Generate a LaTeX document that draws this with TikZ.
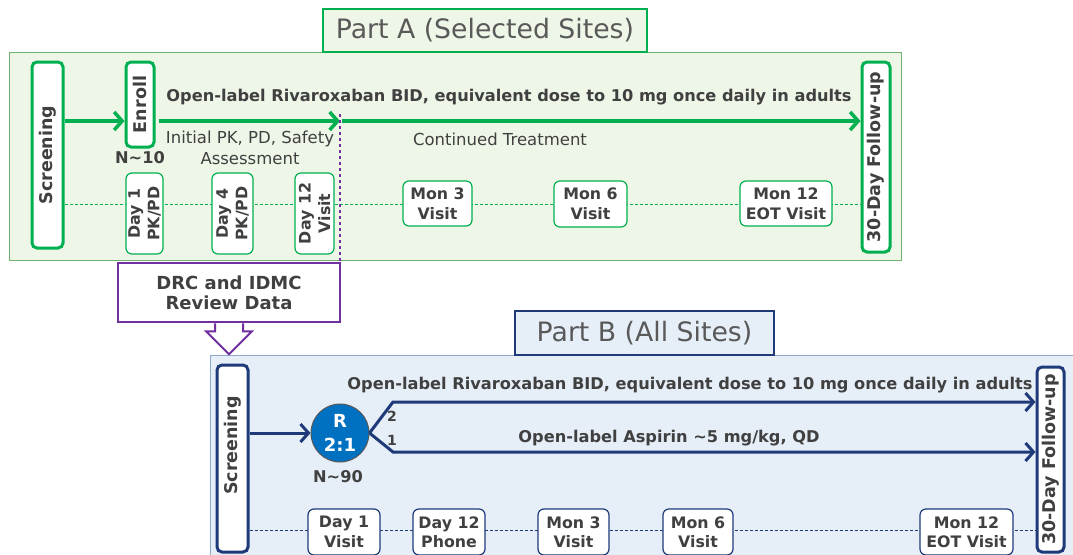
\documentclass[tikz,border=0pt]{standalone}
\usepackage{fontspec}
\setmainfont{DejaVu Sans}
\usetikzlibrary{arrows.meta,calc}
\definecolor{gA}{HTML}{00B050}
\definecolor{gAthin}{HTML}{6DB36D}
\definecolor{bgA}{HTML}{EEF6E7}
\definecolor{nav}{HTML}{1F3A78}
\definecolor{navthin}{HTML}{8EA9C8}
\definecolor{bgB}{HTML}{E6EEF7}
\definecolor{pur}{HTML}{7030A0}
\definecolor{txt}{HTML}{404040}
\definecolor{ttl}{HTML}{595959}
\definecolor{rb}{HTML}{0070C0}
\pgfdeclarelayer{bg}
\pgfdeclarelayer{mid}
\pgfsetlayers{bg,mid,main}
\newcommand{\fs}[1]{\fontsize{#1}{#1}\selectfont}
\newcommand{\fsb}[2]{\fontsize{#1}{#2}\selectfont}
\tikzset{
  phaseA/.style={draw=gA, line width=3pt, fill=white, rounded corners=5pt, inner sep=0pt, text=txt, font=\bfseries\fs{17.5}, rotate=90},
  phaseB/.style={draw=nav, line width=3pt, fill=white, rounded corners=5pt, inner sep=0pt, text=txt, font=\bfseries\fs{17.5}, rotate=90},
  visitA/.style={draw=gA, line width=1.2pt, fill=white, rounded corners=6pt, inner sep=0pt, align=center, text=txt, font=\bfseries\fsb{15.8}{19.5}},
  visitB/.style={draw=nav, line width=1.2pt, fill=white, rounded corners=6pt, inner sep=0pt, align=center, text=txt, font=\bfseries\fsb{15.8}{19.5}},
  titlebox/.style={line width=2.5pt, inner sep=0pt, text=ttl, font=\fs{26.7}},
  garrow/.style={draw=gA, line width=3.5pt, -{Straight Barb[length=8pt,width=18pt]}},
  narrow/.style={draw=nav, line width=3pt, -{Straight Barb[length=8pt,width=18pt]}},
  boldlab/.style={text=txt, font=\bfseries\fs{16.2}, inner sep=0pt},
  plainlab/.style={text=txt, font=\fsb{16.5}{21}, inner sep=0pt, align=center},
}
\begin{document}
\begin{tikzpicture}[x=1pt,y=-1pt]
\useasboundingbox (0,0) rectangle (1073,554);
\clip (0,0) rectangle (1073,554);

% ---------- Part A ----------
\begin{pgfonlayer}{bg}
  \draw[draw=gAthin, fill=bgA, line width=1pt] (9,52) rectangle (901,260);
  \draw[draw=navthin, fill=bgB, line width=1pt] (210,355) rectangle (1090,570);
\end{pgfonlayer}

\node[titlebox, draw=gA, fill=bgA, minimum width=324pt, minimum height=43pt] (titleA) at (485,30.5) {Part A (Selected Sites)};

\node[phaseA, minimum width=186pt, minimum height=31pt] (scrA) at (47.5,155) {Screening};
\node[phaseA, minimum width=85pt, minimum height=28pt] (enroll) at (140,104.5) {Enroll};
\node[phaseA, minimum width=190pt, minimum height=28pt] (fuA) at (876,157) {30-Day Follow-up};

\node[visitA, rotate=90, minimum width=81pt, minimum height=37pt] (d1A) at (144.5,213.5) {Day 1\\PK/PD};
\node[visitA, rotate=90, minimum width=81pt, minimum height=41pt] (d4A) at (232.5,213.5) {Day 4\\PK/PD};
\node[visitA, rotate=90, minimum width=81pt, minimum height=39pt] (d12A) at (314.5,213.5) {Day 12\\Visit};
\node[visitA, minimum width=69pt, minimum height=45pt] (m3A) at (437.5,203.5) {Mon 3\\Visit};
\node[visitA, minimum width=73pt, minimum height=46pt] (m6A) at (590.5,204) {Mon 6\\Visit};
\node[visitA, minimum width=92pt, minimum height=45pt] (m12A) at (786,203.5) {Mon 12\\EOT Visit};

\coordinate (yA) at (0,121);
\coordinate (dashA) at (0,204);
\coordinate (split) at (340,121);
\coordinate (dotEnd) at (340,263);

\begin{pgfonlayer}{mid}
  \draw[gA, line width=0.8pt, dash pattern=on 3pt off 2pt] (scrA.south |- dashA) -- (fuA.north |- dashA);
\end{pgfonlayer}

\draw[garrow] (scrA.south |- yA) -- (enroll.north |- yA);
\draw[garrow, shorten <=3pt] (enroll.south |- yA) -- (split);
\draw[garrow] ([xshift=2pt]split) -- (fuA.north |- yA);

\node[boldlab] (labA) at (509,97) {Open-label Rivaroxaban BID, equivalent dose to 10 mg once daily in adults};
\node[plainlab] (initA) at (250,148) {Initial PK, PD, Safety\\Assessment};
\node[plainlab] (contA) at (500,139) {Continued Treatment};
\node[boldlab] (nA) at (140,158) {N\textasciitilde 10};

% ---------- DRC ----------
\node[draw=pur, line width=2.5pt, fill=white, inner sep=0pt, minimum width=222pt, minimum height=59pt, align=center, text=txt, font=\bfseries\fs{18}] (drc) at (229,292.5) {DRC and IDMC\\[2pt]Review Data};
\draw[pur, line width=2pt, fill=white, line join=miter]
  ([xshift=-14pt]drc.south) -- ++(0,8) -- ++(-9,0) -- ++(23,23) -- ++(23,-23) -- ++(-9,0) -- ++(0,-8);
\draw[pur, line width=2.6pt, dash pattern=on 2.6pt off 3.4pt] (split |- 0,114) -- (dotEnd);

% ---------- Part B ----------
\node[titlebox, draw=nav, fill=bgB, minimum width=259pt, minimum height=44pt] (titleB) at (644.5,333) {Part B (All Sites)};

\node[phaseB, minimum width=187pt, minimum height=31pt] (scrB) at (232.5,458.5) {\hspace*{26pt}Screening};
\node[phaseB, minimum width=185pt, minimum height=27pt] (fuB) at (1050.5,459.5) {30-Day Follow-up};

\node[circle, draw=ttl, line width=1pt, fill=rb, minimum size=58pt, inner sep=0pt, text=white, align=center, font=\bfseries\fs{18}] (R) at (340,433) {R\\[6pt]2:1};
\node[boldlab] (nB) at (338,477) {N\textasciitilde 90};

\coordinate (b2) at (393,402);
\coordinate (b1) at (393,452);
\coordinate (dashB) at (0,530);

\begin{pgfonlayer}{mid}
  \draw[nav, line width=0.8pt, dash pattern=on 3pt off 2pt] (scrB.south |- dashB) -- (fuB.north |- dashB);
\end{pgfonlayer}

\draw[narrow] (scrB.south |- R) -- (R.west);
\draw[narrow, line join=miter] (R.east) -- (b2) -- (b2 -| fuB.north);
\draw[narrow, line join=miter] (R.east) -- (b1) -- (b1 -| fuB.north);

\node[boldlab, font=\bfseries\fs{14}] (n2) at (392,416) {2};
\node[boldlab, font=\bfseries\fs{14}] (n1) at (392,440) {1};
\node[boldlab] (labB1) at (690,385) {Open-label Rivaroxaban BID, equivalent dose to 10 mg once daily in adults};
\node[boldlab] (labB2) at (669,438) {Open-label Aspirin \textasciitilde 5 mg/kg, QD};

\node[visitB, minimum width=72pt, minimum height=46pt] (d1B) at (344,532) {Day 1\\Visit};
\node[visitB, minimum width=72pt, minimum height=46pt] (d12B) at (449,532) {Day 12\\Phone};
\node[visitB, minimum width=71pt, minimum height=46pt] (m3B) at (573.5,532) {Mon 3\\Visit};
\node[visitB, minimum width=70pt, minimum height=46pt] (m6B) at (698,532) {Mon 6\\Visit};
\node[visitB, minimum width=93pt, minimum height=46pt] (m12B) at (966.5,532) {Mon 12\\EOT Visit};
\end{tikzpicture}
\end{document}
